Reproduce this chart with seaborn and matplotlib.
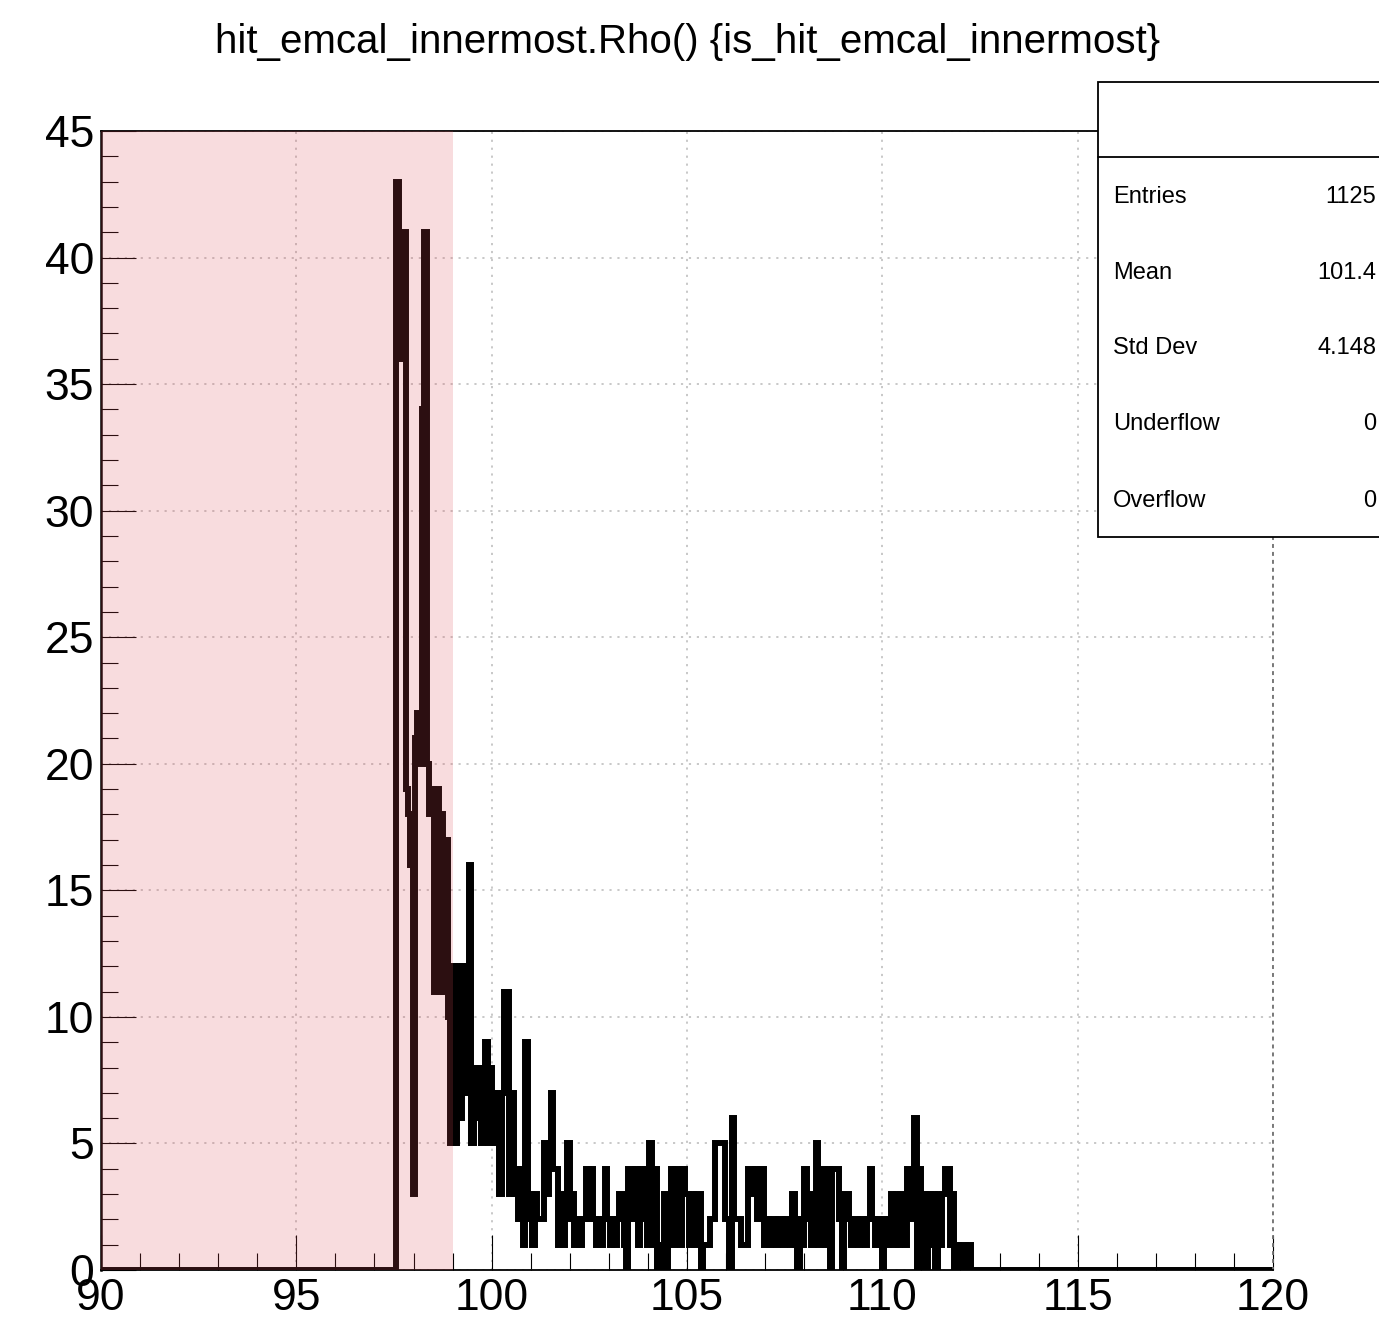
import numpy as np
import pandas as pd
import matplotlib
matplotlib.use("Agg")
import matplotlib.pyplot as plt
import seaborn as sns
from matplotlib.patches import Rectangle
from matplotlib.lines import Line2D
from matplotlib.ticker import MultipleLocator

# ---------------- data ----------------
title = "hit_emcal_innermost.Rho() {is_hit_emcal_innermost}"
x_range = (90, 120)
y_range = (0, 45)
bin_start = 97.56
bin_width = 0.06
counts = [
    43, 36, 41, 41, 19, 18, 16, 3, 21, 22, 20, 34, 41, 20, 18, 19, 11, 19, 11, 18, 11, 17, 10, 5,
    12, 5, 12, 6, 12, 7, 12, 16, 5, 8, 6, 8, 5, 8, 9, 5, 8, 7, 5, 7, 3, 7, 11, 11, 3, 7, 3, 4, 2, 4, 1, 9,
    2, 3, 1, 3, 2, 2, 2, 5, 3, 5, 7, 4, 4, 1, 3, 1, 3, 5, 2, 3, 1, 2, 1, 2, 2, 4, 2, 4,
    2, 1, 2, 1, 2, 4, 2, 1, 2, 1,
    2, 3, 3, 1, 0, 4, 4, 2, 4, 1,
    4, 2, 4, 1, 5, 1, 4, 0, 1, 0,
    3, 0, 2, 4, 1, 4, 4, 1, 4, 3,
    3, 1, 3, 1, 3, 3, 0, 1, 1, 1,
    2, 2, 5, 5, 5, 5, 2, 2, 0, 6,
    2, 2, 2, 1, 1, 1, 4, 4, 3, 4,
    2, 4, 4, 1, 2, 1, 2, 2, 1, 2,
    2, 1, 2, 2, 1,
    3, 1, 0, 2, 1, 4, 2, 3, 1, 2,
    5, 1, 4, 4, 1, 4, 0, 4, 4, 4,
    2, 0, 3, 3, 2, 1, 2, 2, 1, 2,
    2, 1, 2, 4, 2, 1, 2, 1, 0, 2,
    1, 2, 3, 1,
    3, 1, 3, 3, 1, 4, 2, 2, 6, 0, 4, 0, 3, 0, 3, 1, 3, 0, 3, 1, 3, 4, 4, 1, 3, 0, 1, 0, 1, 1, 0, 1,
]
highlight_range = (90, 99)
stats_labels = ["Entries", "Mean", "Std Dev", "Underflow", "Overflow"]
stats_values = ["1125", "101.4", "4.148", "0", "0"]

# ---------------- style ----------------
sns.set_theme(style="white")
plt.rcParams['font.family'] = ['Liberation Sans', 'DejaVu Sans']

W, H = 1379, 1323
fig = plt.figure(figsize=(W / 100, H / 100), dpi=100)
ax = fig.add_axes([101 / W, 1 - 1270 / H, (1273 - 101) / W, (1270 - 131) / H])

edges = np.concatenate([[x_range[0]],
                        bin_start + bin_width * np.arange(len(counts) + 1),
                        [x_range[1]]])
weights = np.concatenate([[0], counts, [0]])
centers = (edges[:-1] + edges[1:]) / 2
df = pd.DataFrame({"rho": centers, "n": weights})

sns.histplot(data=df, x="rho", weights="n", bins=[float(e) for e in edges],
             element="step", fill=False, color="black", linewidth=4.3, ax=ax,
             zorder=2)
for ln in ax.lines:
    ln.set_solid_joinstyle("miter")
    ln.set_solid_capstyle("butt")

ax.axvspan(highlight_range[0], highlight_range[1], color="#e0505a", alpha=0.2,
           lw=0, zorder=3)

ax.set_xlim(*x_range)
ax.set_ylim(*y_range)
ax.set_xlabel("")
ax.set_ylabel("")

ax.xaxis.set_major_locator(MultipleLocator(5))
ax.xaxis.set_minor_locator(MultipleLocator(1))
ax.yaxis.set_major_locator(MultipleLocator(5))
ax.yaxis.set_minor_locator(MultipleLocator(1))
ax.tick_params(which="major", direction="in", length=25, width=0.8, color="black",
               labelsize=32, labelcolor="black", top=False, right=False,
               bottom=True, left=True)
ax.tick_params(which="minor", direction="in", length=12.5, width=0.8, color="black",
               top=False, right=False, bottom=True, left=True)
ax.tick_params(axis="x", pad=6)
ax.tick_params(axis="y", pad=5)

ax.grid(which="major", color="#c4c4c4", linestyle=(0, (1.2, 3.2)), linewidth=1.3)
ax.set_axisbelow(True)
for name, s in ax.spines.items():
    s.set_color("black")
    s.set_linewidth(1.3)
ax.spines["left"].set_linewidth(1.8)
ax.spines["right"].set_linestyle((0, (1.2, 3.2)))
ax.spines["right"].set_color("#707070")

fig.text(688 / W, 1 - 42 / H, title, ha="center", va="center", fontsize=29,
         color="black")

# stats box
bx0, bx1, by0, by1 = 1098, 1385, 82, 537
fig.patches.append(Rectangle((bx0 / W, 1 - by1 / H), (bx1 - bx0) / W, (by1 - by0) / H,
                             transform=fig.transFigure, facecolor="white",
                             edgecolor="black", lw=1.3, zorder=10))
fig.lines.append(Line2D([bx0 / W, 1], [1 - 157 / H, 1 - 157 / H],
                        transform=fig.transFigure, color="black", lw=1.3, zorder=11))
rows_y = [197, 273, 348, 424, 501]
for lab, val, yy in zip(stats_labels, stats_values, rows_y):
    fig.text(1113 / W, 1 - yy / H, lab, ha="left", va="center", fontsize=17,
             color="black", zorder=12)
    fig.text(1376 / W, 1 - yy / H, val, ha="right", va="center", fontsize=17,
             color="black", zorder=12)

fig.savefig("out.png", dpi=100)
